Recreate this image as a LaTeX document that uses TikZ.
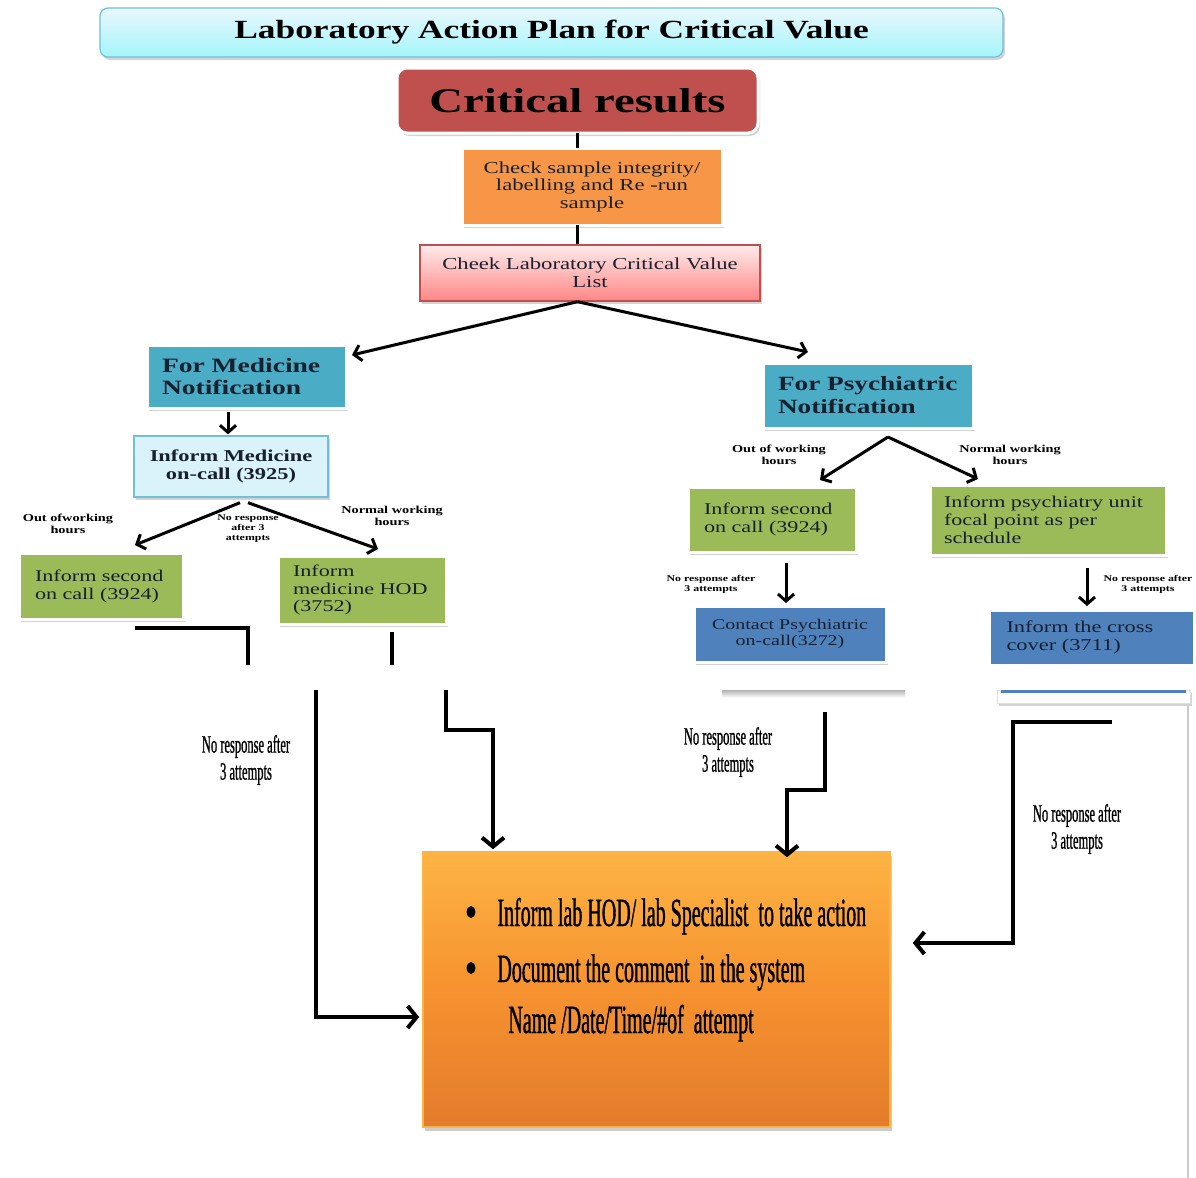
\documentclass[tikz,border=0pt]{standalone}
\usepackage{fontspec}
\setmainfont{Liberation Serif}
\newfontfamily\wf[FakeStretch=1.35]{Liberation Serif}
\newfontfamily\cf[FakeStretch=0.5,FakeBold=0.8]{Liberation Serif}
\usetikzlibrary{arrows.meta,shadows,calc}
\definecolor{critred}{HTML}{C0504D}
\definecolor{orng}{HTML}{F79646}
\definecolor{tealb}{HTML}{4BACC6}
\definecolor{greenb}{HTML}{9BBB59}
\definecolor{blueb}{HTML}{4F81BD}
\definecolor{darktxt}{HTML}{17202E}
\definecolor{ltcyan}{HTML}{DAF2FA}
\definecolor{cyanbd}{HTML}{6FC0D8}
\definecolor{bottop}{HTML}{FDB444}
\definecolor{botmid}{HTML}{F6922F}
\definecolor{botbot}{HTML}{E27C2C}
\begin{document}
\begin{tikzpicture}[x=0.5pt,y=-0.5pt,
  shad/.style={drop shadow={opacity=0.35,shadow xshift=1pt,shadow yshift=-1.5pt}},
  box/.style={draw=white, line width=1.5pt, shad, inner sep=0pt, outer sep=0pt, text=darktxt},
  lbl/.style={align=center, inner sep=0pt, font=\wf\bfseries\fontsize{5.3}{6}\selectfont},
  tlbl/.style={align=center, inner sep=0pt, font=\wf\bfseries\fontsize{4.4}{5}\selectfont},
  clbl/.style={align=center, inner sep=0pt, font=\cf\fontsize{12.5}{13.5}\selectfont},
  btxt/.style={anchor=base west, inner sep=0pt, font=\cf\fontsize{20}{24}\selectfont},
  ln/.style={line width=1.5pt},
  arr/.style={line width=1.5pt, -{Straight Barb[length=3.5pt,width=8pt]}},
  arrb/.style={line width=2pt, -{Straight Barb[length=4.5pt,width=11pt]}}
]
\useasboundingbox (0,0) rectangle (1196,1178);

% title
\node[draw=cyanbd, line width=0.6pt, rounded corners=4pt, top color=ltcyan!60, bottom color=cyan!25!ltcyan, shad,
  minimum width=451.5pt, minimum height=24.5pt, inner sep=0pt,
  font=\wf\bfseries\fontsize{13.1}{15}\selectfont] (title) at (551.5,32.5) {Laboratory Action Plan for Critical Value};

\node[box, fill=critred, rounded corners=5pt, text=black, minimum width=180.5pt, minimum height=32.5pt,
  font=\wf\bfseries\fontsize{17.3}{20}\selectfont] (crit) at (577.5,100.5) {Critical results};

\node[box, fill=orng, minimum width=130pt, minimum height=38.5pt, align=center,
  font=\wf\fontsize{8.4}{8.75}\selectfont] (check) at (592,186.5) {Check sample integrity/\\labelling and Re -run\\sample};

\node[draw=critred, line width=0.7pt, top color=red!8, bottom color=red!30!pink, shad, inner sep=0pt,
  minimum width=170pt, minimum height=28pt, align=center, text=darktxt,
  font=\wf\fontsize{8.4}{9}\selectfont] (cheek) at (590,273) {Cheek Laboratory Critical Value\\List};

\node[box, fill=tealb, minimum width=99.5pt, minimum height=31.5pt, text width=84.5pt, align=left,
  font=\wf\bfseries\fontsize{10.2}{11}\selectfont] (med) at (246.5,376.5) {For Medicine\\Notification};

\node[draw=cyanbd, line width=0.7pt, fill=ltcyan, shad, inner sep=0pt, text=darktxt,
  minimum width=97pt, minimum height=30.5pt, align=center,
  font=\wf\bfseries\fontsize{8.3}{9}\selectfont] (imed) at (231,466.5) {Inform Medicine\\on-call (3925)};

\node[box, fill=greenb, minimum width=82pt, minimum height=33pt, text width=66pt, align=left,
  font=\wf\fontsize{8.2}{9}\selectfont] (sec1) at (101,586) {Inform second\\on call (3924)};

\node[box, fill=greenb, minimum width=84pt, minimum height=34pt, text width=69pt, align=left,
  font=\wf\fontsize{8.2}{8.6}\selectfont] (hod) at (362,590) {Inform\\medicine HOD\\(3752)};

\node[box, fill=tealb, minimum width=105pt, minimum height=32.5pt, text width=90pt, align=left,
  font=\wf\bfseries\fontsize{10.1}{11.5}\selectfont] (psy) at (868,395.5) {For Psychiatric\\Notification};

\node[box, fill=greenb, minimum width=84pt, minimum height=32.5pt, text width=68pt, align=left,
  font=\wf\fontsize{8.2}{9}\selectfont] (sec2) at (772,519.5) {Inform second\\on call (3924)};

\node[box, fill=greenb, minimum width=118pt, minimum height=35pt, text width=104pt, align=left,
  font=\wf\fontsize{8.2}{9}\selectfont] (foc) at (1048,520) {Inform psychiatry unit\\focal point as per\\schedule};

\node[box, fill=blueb, minimum width=96pt, minimum height=28pt, align=center,
  font=\wf\fontsize{7.4}{7.6}\selectfont] (cpsy) at (790,634) {Contact Psychiatric\\on-call(3272)};

\node[box, fill=blueb, minimum width=102.5pt, minimum height=27.5pt, text width=85pt, align=left,
  font=\wf\fontsize{8.3}{9}\selectfont] (cross) at (1091.5,637.5) {Inform the cross\\cover (3711)};

% labels
\node[lbl] (l1) at (68,524) {Out ofworking\\hours};
\node[tlbl] (l2) at (248,529) {No response\\after 3\\attempts};
\node[lbl] (l3) at (392,516) {Normal working\\hours};
\node[lbl] (l4) at (779,455) {Out of working\\hours};
\node[lbl] (l5) at (1010,455) {Normal working\\hours};
\node[tlbl] (l6) at (711,584) {No response after\\3 attempts};
\node[tlbl] (l7) at (1148,584) {No response after\\3 attempts};

% upper connectors
\draw[ln] (crit.south) -- (crit.south |- check.north);
\draw[ln] (crit.south |- check.south) -- (crit.south |- cheek.north);
\draw[arr] (crit.south |- cheek.south) -- ($(med.north east)+(6,10)$);
\draw[arr] (crit.south |- cheek.south) -- ($(psy.north west)+(45,-11)$);
\draw[arr] ($(imed.north |- med.south)+(-3,4)$) -- ($(imed.north)+(-3,-1)$);
\draw[arr] ($(imed.south)+(9,5)$) -- ($(sec1.north)+(34,-8)$);
\draw[arr] ($(imed.south)+(17,5)$) -- ($(hod.north)+(16,-7)$);
\draw[arr] ($(psy.south)+(20,9)$) -- ($(sec2.north)+(48,-7)$);
\draw[arr] ($(psy.south)+(20,9)$) -- ($(foc.north)+(-70,-6)$);
\draw[arr] ($(sec2.south)+(14,11)$) -- ($(cpsy.north)+(-4,-3)$);
\draw[arr] ($(foc.south)+(39,13)$) -- ($(cross.north)+(-4.5,-4)$);

% bottom box
\node[draw=bottop, line width=0.8pt, top color=bottop, bottom color=botbot, middle color=botmid,
  drop shadow={opacity=0.4,shadow xshift=1pt,shadow yshift=-2pt},
  minimum width=233.5pt, minimum height=137.5pt, inner sep=0pt] (bot) at (656.5,989.5) {};

% long connectors from the left boxes
\draw[arrb] ($(sec1.south)+(34,9)$) -- ++(113,0) -- ++(0,49) -- ++(68,0) |- ($(bot.west)+(-3,27.5)$);
\draw[arrb] ($(hod.south)+(30,8)$) -- ++(0,53) -- ++(54,0) -- ++(0,45) -- ++(47,0) -- ($(bot.north)+(-163.5,-2)$);

% white gap band
\fill[white] (0,665) rectangle (1196,690);

% lower fragments of the right boxes
\node[top color=gray!60, bottom color=gray!5, inner sep=0pt, minimum width=91.5pt, minimum height=3.5pt] (cpsyb) at (813.5,693.5) {};
\node[draw=gray!25, line width=0.4pt, fill=white, shad, inner sep=0pt, minimum width=96.5pt, minimum height=6.5pt] (crossb) at (1093.5,696.5) {};
\draw[blueb, line width=1.5pt] ($(crossb.north west)+(4,2)$) -- ($(crossb.north east)+(-4,2)$);

\draw[arrb] ($(cpsyb.south)+(11.5,15)$) -- ++(0,78) -- ++(-38,0) -- ($(bot.north)+(130.5,6)$);
\draw[arrb] ($(crossb.south)+(18.5,19)$) -- ++(-99,0) |- ($(bot.east)+(22,-46.5)$);

\draw[gray!40, line width=0.6pt] (1188,705) -- (1188,1178);

% condensed labels
\node[clbl] (c1) at (246,760) {No response after\\3 attempts};
\node[clbl] (c2) at (728,752) {No response after\\3 attempts};
\node[clbl] (c3) at (1077,829) {No response after\\3 attempts};

% bottom text
\fill (471,912) ellipse [x radius=2.2pt, y radius=3pt];
\fill (471,968) ellipse [x radius=2.2pt, y radius=3pt];
\node[btxt] (t1) at (497,926) {Inform lab HOD/ lab Specialist\ \ to take action};
\node[btxt] (t2) at (497,982) {Document the comment\ \ in the system};
\node[btxt] (t3) at (508,1033) {Name /Date/Time/\#of\ \ attempt};
\end{tikzpicture}
\end{document}
